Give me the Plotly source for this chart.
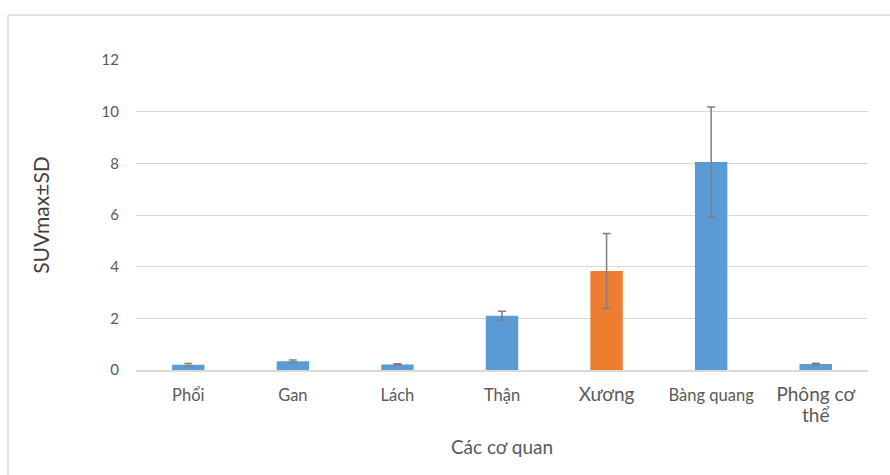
import plotly.graph_objects as go

# Mean SUVmax per organ and its standard deviation
organs = ["Phổi", "Gan", "Lách", "Thận", "Xương", "Bàng quang", "Phông cơ thể"]
suv_mean = [0.2, 0.34, 0.21, 2.1, 3.83, 8.05, 0.23]
suv_sd = [0.05, 0.05, 0.03, 0.17, 1.45, 2.13, 0.03]
bar_colors = ["#5B9BD5", "#5B9BD5", "#5B9BD5", "#5B9BD5", "#ED7D31", "#5B9BD5", "#5B9BD5"]
tick_labels = [
    "Phổi",
    "Gan",
    "Lách",
    "Thận",
    "<span style='font-size:19px'>Xương</span>",
    "<span style='font-size:16.5px'>Bàng quang</span>",
    "<span style='font-size:19px'>Phông cơ<br>thể</span>",
]
y_ticks = [0, 2, 4, 6, 8, 10, 12]

FONT = "Lato, 'Noto Sans', sans-serif"
TEXT = "#595959"

fig = go.Figure(
    go.Bar(
        x=organs,
        y=suv_mean,
        marker=dict(color=bar_colors, line=dict(width=0)),
        error_y=dict(type="data", array=suv_sd, visible=True,
                     color="#7f7f7f", thickness=1.5, width=4),
    )
)

fig.update_layout(
    width=890,
    height=475,
    margin=dict(l=136, r=22, t=60, b=105),
    paper_bgcolor="white",
    plot_bgcolor="white",
    bargap=0.69,
    showlegend=False,
    font=dict(family=FONT, color=TEXT, size=16.5),
    shapes=[
        # chart frame (top and left edges visible within the page)
        dict(type="line", xref="paper", yref="paper",
             x0=(8 - 136) / 732, x1=(890 - 136) / 732,
             y0=(370 - 15) / 310, y1=(370 - 15) / 310,
             line=dict(color="#d9d9d9", width=1.5)),
        dict(type="line", xref="paper", yref="paper",
             x0=(8 - 136) / 732, x1=(8 - 136) / 732,
             y0=(370 - 15) / 310, y1=(370 - 480) / 310,
             line=dict(color="#d9d9d9", width=1.5)),
    ],
)

fig.update_xaxes(
    type="category",
    tickvals=organs,
    ticktext=tick_labels,
    showline=True,
    linecolor="#d9d9d9",
    linewidth=1.5,
    ticks="",
    ticklabelstandoff=9,
    tickfont=dict(size=16.5, color=TEXT),
    title=dict(text="Các cơ quan", font=dict(size=19, color=TEXT), standoff=16),
)

fig.update_yaxes(
    range=[0, 12],
    tickvals=y_ticks,
    showgrid=True,
    gridcolor="#d9d9d9",
    gridwidth=1.3,
    zeroline=False,
    ticks="",
    ticklabelstandoff=16,
    tickfont=dict(size=15, color=TEXT),
    title=dict(text="SUVmax±SD", font=dict(size=21, color="#404040"), standoff=46),
)

fig.write_html("out.html")
